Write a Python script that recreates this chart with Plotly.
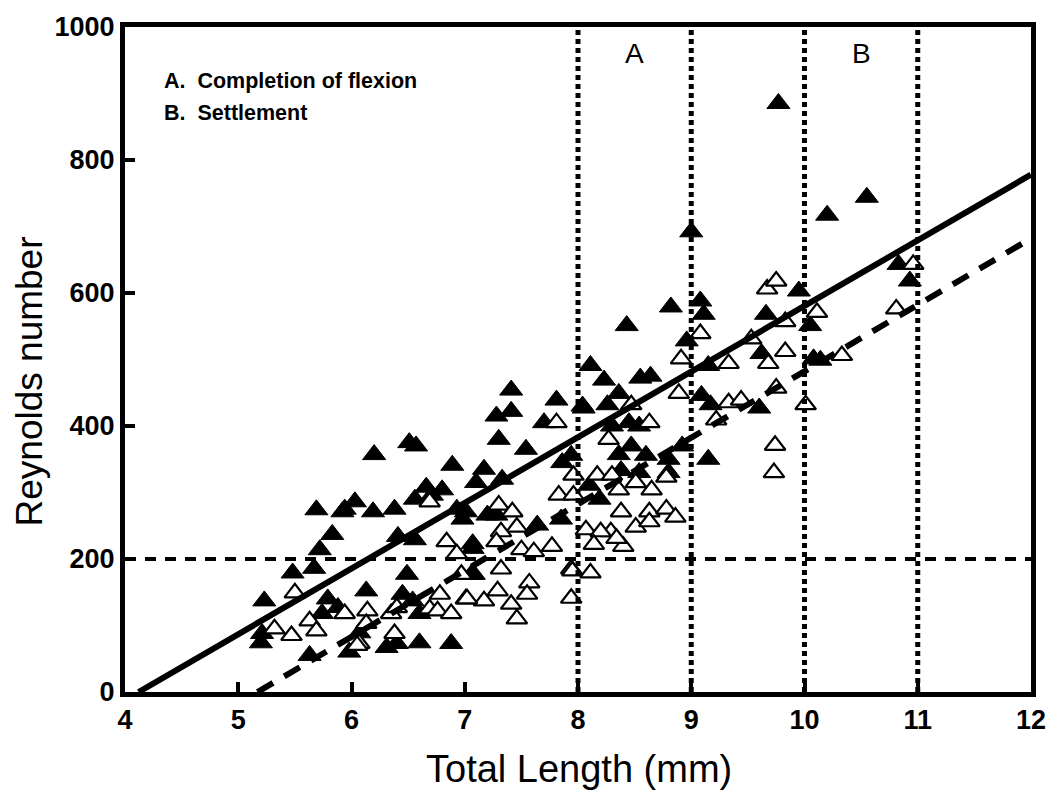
import plotly.graph_objects as go

# Filled triangles (series 1)
filled_x = [5.21, 5.23, 5.20, 5.48, 5.69, 5.72, 5.67, 5.63, 5.83, 5.92, 6.03, 6.19, 6.20, 5.79, 5.88,
            6.13, 5.74, 5.98, 6.07, 6.51, 6.57, 6.89, 6.66, 6.80, 5.94, 6.38, 6.56, 6.41, 6.56, 6.49,
            6.45, 6.54, 6.60, 6.31, 6.40, 6.60, 6.88, 6.71, 6.93, 6.98, 7.07, 7.06, 7.41, 7.81, 7.28,
            7.41, 7.70, 7.30, 7.54, 7.86, 7.17, 7.10, 7.33, 7.01, 7.20, 7.28, 7.64, 7.85, 7.07, 7.08,
            8.04, 8.82, 8.43, 8.11, 8.23, 8.55, 8.64, 8.36, 8.26, 8.05, 8.96, 8.45, 8.54, 8.30, 8.47,
            8.36, 8.60, 8.80, 8.92, 8.38, 8.54, 8.80, 7.94, 8.10, 8.19, 9.77, 9.00, 9.08, 9.11, 9.66,
            9.95, 9.62, 9.15, 9.09, 9.17, 9.60, 9.15, 10.05, 10.08, 10.20, 10.55, 10.83, 10.93, 10.14]
filled_y = [88, 137, 74, 179, 274, 214, 186, 55, 237, 271, 286, 271, 357, 140, 127,
            152, 118, 60, 89, 375, 370, 341, 308, 304, 275, 275, 290, 234, 229, 177,
            147, 137, 118, 67, 73, 74, 73, 296, 275, 260, 216, 177, 454, 439, 415,
            422, 405, 380, 365, 345, 335, 315, 320, 271, 266, 266, 251, 260, 223, 177,
            430, 579, 551, 491, 469, 472, 475, 449, 432, 427, 528, 405, 400, 400, 370,
            357, 356, 350, 370, 333, 330, 330, 356, 311, 290, 885, 692, 588, 568, 568,
            603, 509, 491, 446, 432, 427, 350, 551, 501, 717, 744, 643, 618, 499]

# Open triangles (series 2)
open_x = [5.50, 5.32, 5.47, 5.63, 5.69, 5.94, 6.14, 6.07, 6.84, 6.93, 6.13, 6.05, 6.35, 6.40, 6.38,
          6.69, 6.76, 6.88, 7.01, 6.97, 6.78, 6.69, 7.81, 7.83, 7.30, 7.42, 7.46, 7.32, 7.28, 7.50,
          7.61, 7.77, 7.32, 7.57, 7.55, 7.29, 7.17, 7.02, 7.41, 7.46, 7.94, 7.94, 8.47, 8.63, 8.27,
          8.89, 8.91, 7.96, 8.17, 8.30, 8.51, 8.36, 8.65, 8.78, 7.96, 8.38, 8.63, 8.78, 8.86, 8.29,
          8.51, 8.40, 8.63, 8.07, 8.20, 8.14, 8.34, 7.95, 8.11, 9.67, 9.75, 9.08, 9.53, 9.83, 9.33,
          9.68, 9.83, 9.33, 9.44, 9.22, 9.75, 9.74, 9.73, 10.01, 10.96, 10.11, 10.33, 10.81]
open_y = [149, 95, 85, 107, 92, 118, 122, 73, 226, 208, 103, 70, 118, 127, 88,
          125, 122, 118, 140, 177, 147, 286, 405, 296, 281, 271, 248, 241, 226, 214,
          211, 219, 185, 164, 147, 152, 137, 140, 132, 110, 141, 185, 432, 405, 380,
          449, 501, 326, 326, 326, 315, 304, 304, 323, 296, 271, 271, 275, 263, 241,
          248, 219, 256, 244, 241, 222, 231, 182, 179, 606, 618, 539, 531, 557, 494,
          494, 512, 435, 439, 409, 457, 371, 330, 432, 643, 571, 506, 576]

# Regression lines (end points)
solid_x = [4.12, 12.0]
solid_y = [0, 778]
dashed_x = [5.17, 12.0]
dashed_y = [0, 682]

# Reference lines
stage_x = [8, 9, 10, 11]
threshold_y = 200

x_ticks = [4, 5, 6, 7, 8, 9, 10, 11, 12]
y_ticks = [0, 200, 400, 600, 800, 1000]

FONT = "Liberation Sans, Arial, sans-serif"
W, H = 1058, 792
L, R, T, B = 125, 25, 20, 100
pw, ph = W - L - R, H - T - B


def px_x(p):
    return (p - L) / pw


def px_y(p):
    return 1 - (p - T) / ph


fig = go.Figure()

fig.add_trace(go.Scatter(
    x=filled_x, y=filled_y, mode="markers",
    marker=dict(symbol="triangle-up", size=20, color="black",
                line=dict(color="black", width=1)),
    showlegend=False))
fig.add_trace(go.Scatter(
    x=open_x, y=open_y, mode="markers",
    marker=dict(symbol="triangle-up", size=18, color="white",
                line=dict(color="black", width=2.2)),
    showlegend=False))

fig.add_trace(go.Scatter(x=solid_x, y=solid_y, mode="lines",
                         line=dict(color="black", width=6), showlegend=False))
fig.add_trace(go.Scatter(x=dashed_x, y=dashed_y, mode="lines",
                         line=dict(color="black", width=6, dash="18px,13px"),
                         showlegend=False))

for xv in stage_x:
    fig.add_shape(type="line", xref="x", yref="y", x0=xv, x1=xv, y0=0, y1=1000,
                  line=dict(color="black", width=5, dash="5px,4px"))
fig.add_shape(type="line", xref="x", yref="y", x0=4, x1=12, y0=threshold_y, y1=threshold_y,
              line=dict(color="black", width=4, dash="11px,9px"))

fig.add_annotation(x=8.5, y=px_y(47), xref="x", yref="paper", text="A", showarrow=False,
                   yanchor="middle", font=dict(family=FONT, size=28, color="black"))
fig.add_annotation(x=10.5, y=px_y(47), xref="x", yref="paper", text="B", showarrow=False,
                   yanchor="middle", font=dict(family=FONT, size=28, color="black"))
fig.add_annotation(x=px_x(162), y=px_y(75), xref="paper", yref="paper",
                   text="A.  Completion of flexion", showarrow=False,
                   xanchor="left", yanchor="middle",
                   font=dict(family=FONT, size=21.5, color="black", weight="bold"))
fig.add_annotation(x=px_x(162), y=px_y(107), xref="paper", yref="paper",
                   text="B.  Settlement", showarrow=False,
                   xanchor="left", yanchor="middle",
                   font=dict(family=FONT, size=21.5, color="black", weight="bold"))

# Axis titles
fig.add_annotation(x=px_x(580), y=px_y(770), xref="paper", yref="paper",
                   text="Total Length (mm)", showarrow=False,
                   xanchor="center", yanchor="middle",
                   font=dict(family=FONT, size=38, color="black"))
fig.add_annotation(x=px_x(29), y=px_y(378), xref="paper", yref="paper",
                   text="Reynolds number", showarrow=False, textangle=-90,
                   xanchor="center", yanchor="middle",
                   font=dict(family=FONT, size=37, color="black"))

fig.update_layout(
    width=W, height=H,
    margin=dict(l=L, r=R, t=T, b=B),
    plot_bgcolor="white", paper_bgcolor="white",
    font=dict(family=FONT, color="black"),
    xaxis=dict(range=[4, 12], tickvals=x_ticks, ticks="inside", ticklen=10, tickwidth=4,
               tickcolor="black", showline=True, linewidth=5, linecolor="black", mirror=True,
               showgrid=False, zeroline=False,
               tickfont=dict(family=FONT, size=27, color="black", weight="bold")),
    yaxis=dict(range=[0, 1000], tickvals=y_ticks, ticks="inside", ticklen=10, tickwidth=4,
               tickcolor="black", showline=True, linewidth=5, linecolor="black", mirror=True,
               showgrid=False, zeroline=False,
               tickfont=dict(family=FONT, size=27, color="black", weight="bold")),
)

fig.write_html("out.html")
